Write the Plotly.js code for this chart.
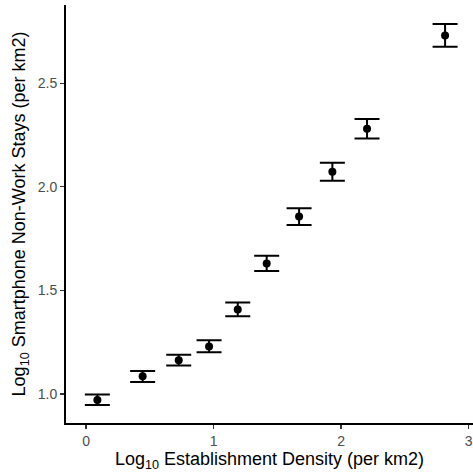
<!DOCTYPE html>
<html>
<head>
<meta charset="utf-8">
<script src="https://cdn.plot.ly/plotly-3.0.1.min.js"></script>
<style>
  html, body { margin: 0; padding: 0; background: #fff; }
  #chart { width: 473px; height: 472px; }
</style>
</head>
<body>
<div id="chart"></div>
<script>
// Binned log10 establishment density vs. mean log10 non-work stays, with CI bounds
const estDensity = [0.089, 0.444, 0.727, 0.965, 1.190, 1.417, 1.671, 1.932, 2.204, 2.816];
const staysMean  = [0.971, 1.086, 1.163, 1.229, 1.408, 1.630, 1.857, 2.073, 2.280, 2.731];
const staysUpper = [0.997, 1.111, 1.190, 1.259, 1.442, 1.667, 1.897, 2.116, 2.328, 2.786];
const staysLower = [0.947, 1.058, 1.137, 1.201, 1.375, 1.594, 1.816, 2.029, 2.234, 2.677];

const xTicks = [0, 1, 2, 3];
const yTicks = [1.0, 1.5, 2.0, 2.5];
const yTickText = ['1.0', '1.5', '2.0', '2.5'];

const errPlus  = staysUpper.map((u, i) => u - staysMean[i]);
const errMinus = staysMean.map((m, i) => m - staysLower[i]);

const trace = {
  type: 'scatter',
  mode: 'markers',
  x: estDensity,
  y: staysMean,
  marker: { color: '#000', size: 8 },
  error_y: {
    type: 'data',
    symmetric: false,
    array: errPlus,
    arrayminus: errMinus,
    color: '#000',
    thickness: 2,
    width: 12.5
  },
  hoverinfo: 'x+y',
  showlegend: false
};

const font = 'Liberation Sans, Arial, sans-serif';

const layout = {
  width: 473,
  height: 472,
  margin: { l: 66, r: 0, t: 5, b: 49 },
  paper_bgcolor: '#fff',
  plot_bgcolor: '#fff',
  font: { family: font, color: '#000' },
  xaxis: {
    range: [-0.157, 3.035],
    tickvals: xTicks,
    ticktext: xTicks.map(String),
    showgrid: false,
    zeroline: false,
    showline: true,
    linecolor: '#000',
    linewidth: 2,
    ticks: 'outside',
    ticklen: 4,
    tickwidth: 1.2,
    tickcolor: '#333',
    tickfont: { family: font, size: 14, color: '#4d4d4d' },
    title: { text: 'Log<sub>10</sub> Establishment Density (per km2)', font: { family: font, size: 18, color: '#000' }, standoff: 1 }
  },
  yaxis: {
    range: [0.86, 2.878],
    tickvals: yTicks,
    ticktext: yTickText,
    showgrid: false,
    zeroline: false,
    showline: true,
    linecolor: '#000',
    linewidth: 2,
    ticks: 'outside',
    ticklen: 4,
    tickwidth: 1.2,
    tickcolor: '#333',
    tickfont: { family: font, size: 14, color: '#4d4d4d' },
    title: { text: 'Log<sub>10</sub> Smartphone Non-Work Stays (per km2)', font: { family: font, size: 18, color: '#000' }, standoff: 7 }
  }
};

Plotly.newPlot('chart', [trace], layout, { displayModeBar: false, staticPlot: true });
</script>
</body>
</html>
